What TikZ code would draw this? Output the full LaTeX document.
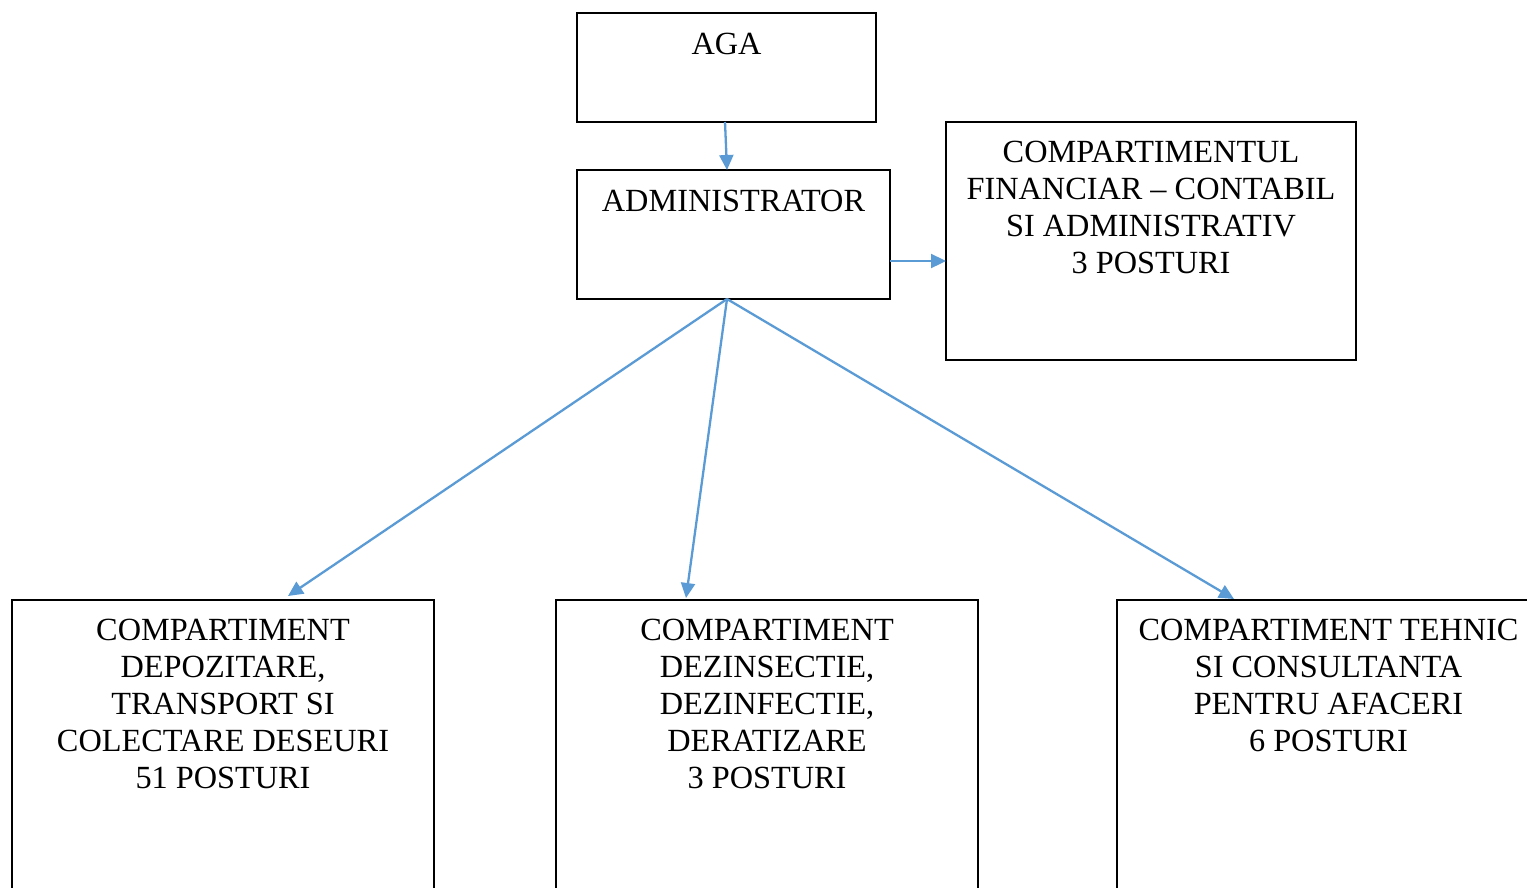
\documentclass[tikz,border=0pt]{standalone}
\usepackage{fontspec}
\setmainfont{Liberation Serif}
\usetikzlibrary{arrows.meta}
\definecolor{arrowblue}{RGB}{91,155,213}
\tikzset{
  box/.style={draw=black, line width=2.6pt, rectangle, inner sep=0pt},
  txt/.style={anchor=north, align=center, inner sep=0pt, font=\fontsize{32.3}{37}\selectfont},
  link/.style={draw=arrowblue, line width=2.3pt, -{Triangle[length=15pt,width=14pt]}}
}
\begin{document}
\begin{tikzpicture}[x=1pt,y=-1pt]
\useasboundingbox (0,0) rectangle (1527,887);
\clip (0,0) rectangle (1527,887);
% boxes
\node[box, minimum width=299pt, minimum height=109pt] (aga) at (726.5,67.5) {};
\node[box, minimum width=313pt, minimum height=129pt] (admin) at (733.5,234.5) {};
\node[box, minimum width=410pt, minimum height=238pt] (fin) at (1151,241) {};
\node[box, minimum width=422pt, minimum height=400pt] (dep) at (223,800) {};
\node[box, minimum width=422pt, minimum height=400pt] (dez) at (767,800) {};
\node[box, minimum width=423pt, minimum height=400pt] (teh) at (1328.5,800) {};
% texts
\node[txt] (agat) at (726.5,33) {AGA};
\node[txt] (admint) at (733.5,190) {ADMINISTRATOR};
\node[txt] (fint) at (1151,141) {COMPARTIMENTUL\\FINANCIAR – CONTABIL\\SI ADMINISTRATIV\\3 POSTURI};
\node[txt] (dept) at (223,619) {COMPARTIMENT\\DEPOZITARE,\\TRANSPORT SI\\COLECTARE DESEURI\\51 POSTURI};
\node[txt] (dezt) at (767,619) {COMPARTIMENT\\DEZINSECTIE,\\DEZINFECTIE,\\DERATIZARE\\3 POSTURI};
\node[txt] (teht) at (1328.5,619) {COMPARTIMENT TEHNIC\\SI CONSULTANTA\\PENTRU AFACERI\\6 POSTURI};
% connector points
\coordinate (agab) at (725,122);
\coordinate (admintop) at (727,170);
\coordinate (adminr) at (890,261);
\coordinate (finl) at (946,261);
\coordinate (adminb) at (727,299);
\coordinate (depin) at (288,596);
\coordinate (dezin) at (686,598);
\coordinate (tehin) at (1234,599);
% connectors
\draw[link] (agab) -- (admintop);
\draw[link] (adminr) -- (finl);
\draw[link] (adminb) -- (depin);
\draw[link] (adminb) -- (dezin);
\draw[link] (adminb) -- (tehin);
\end{tikzpicture}
\end{document}
